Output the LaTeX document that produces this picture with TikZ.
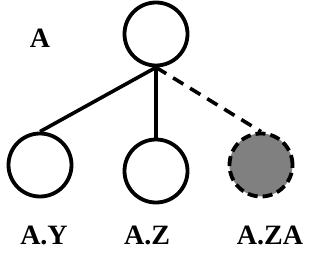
\documentclass[tikz,border=0pt]{standalone}
\usepackage{fontspec}
\setmainfont{Liberation Serif}
\begin{document}
\begin{tikzpicture}[x=1pt,y=-1pt,
  treenode/.style={circle,draw=black,line width=3.8pt,minimum size=63pt,inner sep=0pt},
  newnode/.style={treenode,fill=gray,dash pattern=on 10pt off 5pt},
  edge/.style={line width=3.6pt},
  newedge/.style={line width=3.6pt,dash pattern=on 12pt off 8pt},
  lbl/.style={anchor=base,inner sep=0pt,font=\fontsize{28}{30}\selectfont\bfseries}]
\useasboundingbox (0,0) rectangle (328,259);
\node[treenode] (root) at (156,34) {};
\node[treenode] (ay) at (40,165) {};
\node[treenode] (az) at (156,171) {};
\node[newnode] (aza) at (261,165) {};
\draw[edge] (root.south) -- (ay.north);
\draw[edge] (root.south) -- (az.north);
\draw[newedge] (root.south) -- (aza.north);
\node[lbl] (la) at (40,48) {A};
\node[lbl] (lay) at (44,244) {A.Y};
\node[lbl] (laz) at (147,244) {A.Z};
\node[lbl] (laza) at (270,244) {A.ZA};
\end{tikzpicture}
\end{document}
